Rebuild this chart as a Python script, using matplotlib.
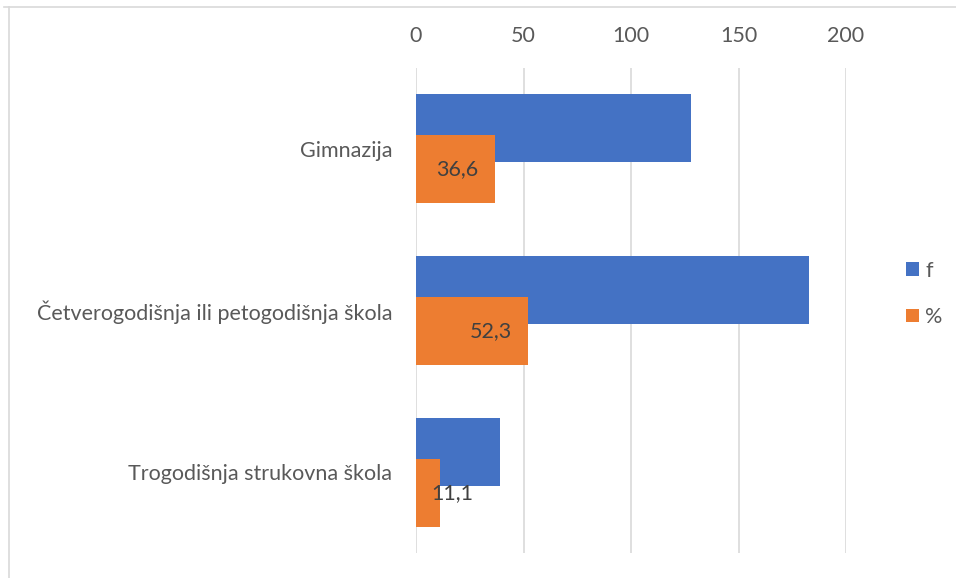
import matplotlib
matplotlib.use("Agg")
import matplotlib.pyplot as plt
from matplotlib.patches import Patch
from matplotlib.lines import Line2D
import numpy as np

plt.rcParams['font.family'] = ['Lato', 'DejaVu Sans']

categories = ["Gimnazija", "Četverogodišnja ili petogodišnja škola", "Trogodišnja strukovna škola"]
f_values = [128, 183, 39]
pct_values = [36.6, 52.3, 11.1]
pct_labels = ["36,6", "52,3", "11,1"]
label_x = [19, 35, 17]
xticks = [0, 50, 100, 150, 200]

BLUE = "#4472C4"
ORANGE = "#ED7D31"
TXT = "#595959"
FS = 15.5

fig = plt.figure(figsize=(9.56, 5.78), dpi=100)
ax = fig.add_axes([416/956, 1-553/578, (846-416)/956, (553-68)/578])

y = np.arange(len(categories))
h = 0.42
off = 0.127
ax.barh(y - off, f_values, height=h, color=BLUE, zorder=2, label="f")
ax.barh(y + off, pct_values, height=h, color=ORANGE, zorder=3, label="%")

for yi, lx, lab in zip(y, label_x, pct_labels):
    ax.text(lx, yi + off, lab, ha="center", va="center", fontsize=FS, color="#404040", zorder=4)

ax.set_xlim(0, 200)
ax.set_ylim(2.5, -0.5)
ax.set_yticks(y)
ax.set_yticklabels(categories)
ax.set_xticks(xticks)
ax.set_xticklabels([str(t) for t in xticks])
ax.xaxis.tick_top()
ax.tick_params(axis="x", length=0, pad=16, labelsize=FS, labelcolor=TXT)
ax.tick_params(axis="y", length=0, pad=17, labelsize=FS, labelcolor=TXT)
for s in ax.spines.values():
    s.set_visible(False)
ax.grid(axis="x", color="#d9d9d9", linewidth=1.2, zorder=0)
ax.set_axisbelow(True)

handles = [Patch(facecolor=BLUE, label="f"), Patch(facecolor=ORANGE, label="%")]
fig.legend(handles=handles, loc="center left", bbox_to_anchor=(906/956, 1-294/578),
           frameon=False, fontsize=FS, handlelength=0.6, handleheight=0.6,
           handletextpad=0.3, labelspacing=1.23, labelcolor=TXT,
           borderpad=0, borderaxespad=0)

# chart border (top and left visible)
fig.add_artist(Line2D([9/956, 9/956], [0, 1-7/578], transform=fig.transFigure, color="#d9d9d9", linewidth=1.2))
fig.add_artist(Line2D([4/956, 1], [1-7/578, 1-7/578], transform=fig.transFigure, color="#d9d9d9", linewidth=1.2))

fig.savefig("out.png", dpi=100)
